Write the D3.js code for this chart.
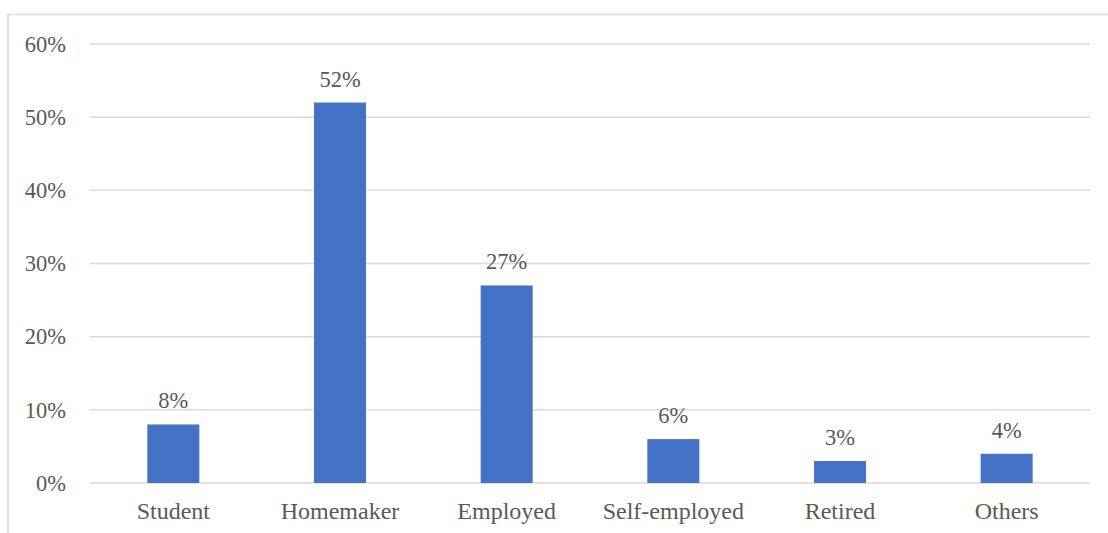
<!DOCTYPE html>
<html>
<head>
<meta charset="utf-8">
<script src="https://cdn.jsdelivr.net/npm/d3@7"></script>
<style>
  html, body { margin: 0; padding: 0; background: #fff; }
  svg { display: block; }
</style>
</head>
<body>
<svg id="chart" width="1108" height="533"></svg>
<script>
// Occupation distribution of respondents
const categories = ["Student", "Homemaker", "Employed", "Self-employed", "Retired", "Others"];
const shares = [8, 52, 27, 6, 3, 4];
const yTicks = [0, 10, 20, 30, 40, 50, 60];

const svg = d3.select("#chart");
const W = 1108, H = 533;
const margin = { left: 90, right: 18, top: 44, bottom: 50 };
const fontFamily = "'Liberation Serif', 'Times New Roman', serif";
const textColor = "#595959";
const gridColor = "#d9d9d9";

// Chart frame
svg.append("rect")
  .attr("x", 8).attr("y", 14.5)
  .attr("width", W + 10).attr("height", H + 10)
  .attr("fill", "none").attr("stroke", gridColor).attr("stroke-width", 1.5);

const x = d3.scaleBand()
  .domain(categories)
  .range([margin.left, W - margin.right])
  .paddingInner(0.688).paddingOuter(0.344);

const y = d3.scaleLinear()
  .domain([0, 60])
  .range([H - margin.bottom, margin.top]);

// Horizontal gridlines
svg.append("g")
  .selectAll("line")
  .data(yTicks)
  .join("line")
  .attr("x1", margin.left).attr("x2", W - margin.right)
  .attr("y1", d => y(d)).attr("y2", d => y(d))
  .attr("stroke", gridColor).attr("stroke-width", 1.5);

// Y axis labels
const yAxis = d3.axisLeft(y).tickValues(yTicks).tickFormat(d => d + "%").tickSize(0).tickPadding(24);
const gy = svg.append("g").attr("transform", `translate(${margin.left},0)`).call(yAxis);
gy.select(".domain").remove();
gy.selectAll("text")
  .attr("font-family", fontFamily).attr("font-size", 22.5).attr("fill", textColor);

// X axis labels
const xAxis = d3.axisBottom(x).tickSize(0).tickPadding(19);
const gx = svg.append("g").attr("transform", `translate(0,${y(0)})`).call(xAxis);
gx.select(".domain").remove();
gx.selectAll("text")
  .attr("font-family", fontFamily).attr("font-size", 24).attr("fill", textColor);

// Bars
svg.append("g")
  .selectAll("rect")
  .data(categories)
  .join("rect")
  .attr("x", d => x(d))
  .attr("width", x.bandwidth())
  .attr("y", (d, i) => y(shares[i]))
  .attr("height", (d, i) => y(0) - y(shares[i]))
  .attr("fill", "#4472c4");

// Value labels
svg.append("g")
  .selectAll("text")
  .data(categories)
  .join("text")
  .attr("x", d => x(d) + x.bandwidth() / 2)
  .attr("y", (d, i) => y(shares[i]) - 16)
  .attr("text-anchor", "middle")
  .attr("font-family", fontFamily).attr("font-size", 22.5).attr("fill", textColor)
  .text((d, i) => shares[i] + "%");
</script>
</body>
</html>
